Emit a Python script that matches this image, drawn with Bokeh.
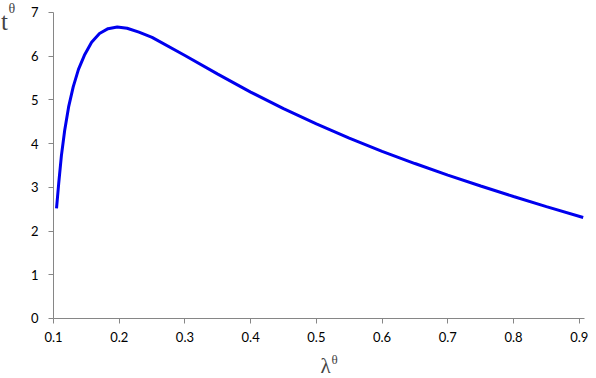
from bokeh.plotting import figure
from bokeh.models import Range1d, Label, FixedTicker
from bokeh.embed import file_html
from bokeh.resources import INLINE

lam = [0.1046, 0.108, 0.112, 0.117, 0.123, 0.130, 0.138, 0.147, 0.158,
       0.170, 0.183, 0.197, 0.212, 0.230, 0.25, 0.30, 0.35, 0.40, 0.45,
       0.50, 0.55, 0.60, 0.65, 0.70, 0.75, 0.80, 0.85, 0.906]
t_vals = [2.52, 3.10, 3.72, 4.30, 4.84, 5.30, 5.70, 6.02, 6.32,
          6.52, 6.63, 6.67, 6.64, 6.55, 6.43, 6.015, 5.59, 5.18, 4.80,
          4.45, 4.125, 3.825, 3.545, 3.28, 3.03, 2.79, 2.56, 2.31]
x_ticks = [0.1, 0.2, 0.3, 0.4, 0.5, 0.6, 0.7, 0.8, 0.9]
y_ticks = [0, 1, 2, 3, 4, 5, 6, 7]

X0, X1 = 0.1, 0.908
Y0, Y1 = 0, 7
p = figure(width=596, height=378, output_backend="svg", toolbar_location=None,
           x_range=Range1d(0.01936, 0.92626), y_range=Range1d(-1.3726, 7.2745),
           min_border_left=0, min_border_right=0, min_border_top=0,
           min_border_bottom=0)
p.outline_line_color = None
p.xgrid.visible = False
p.ygrid.visible = False

p.line(lam, t_vals, line_color="#0000ee", line_width=3)

for ax in (p.xaxis[0], p.yaxis[0]):
    ax.axis_line_color = "#868686"
    ax.major_tick_line_color = "#868686"
    ax.minor_tick_line_color = None
    ax.major_tick_in = 0
    ax.major_tick_out = 5
    ax.major_label_text_font = "Lato"
    ax.major_label_text_font_size = "13px"
    ax.major_label_text_color = "#000000"
p.xaxis[0].ticker = FixedTicker(ticks=x_ticks)
p.yaxis[0].ticker = FixedTicker(ticks=y_ticks)
p.xaxis[0].bounds = (X0, X1)
p.yaxis[0].bounds = (Y0, Y1)
p.xaxis[0].fixed_location = Y0
p.yaxis[0].fixed_location = X0
p.xaxis[0].major_label_standoff = 9
p.yaxis[0].major_label_standoff = 10
p.xaxis[0].major_label_overrides = {v: f"{v:.1f}" for v in x_ticks}

for x, y, txt, size in [(0.0201, 7.114, "t", "25px"),
                        (0.0315, 7.252, "θ", "14px"),
                        (0.5063, -0.8235, "λ", "21px"),
                        (0.523, -0.766, "θ", "13px")]:
    p.add_layout(Label(x=x, y=y, text=txt, text_font="serif",
                       text_font_style="normal",
                       text_font_size=size, text_baseline="top",
                       level="overlay"))

open("out.html", "w").write(file_html(p, INLINE))
